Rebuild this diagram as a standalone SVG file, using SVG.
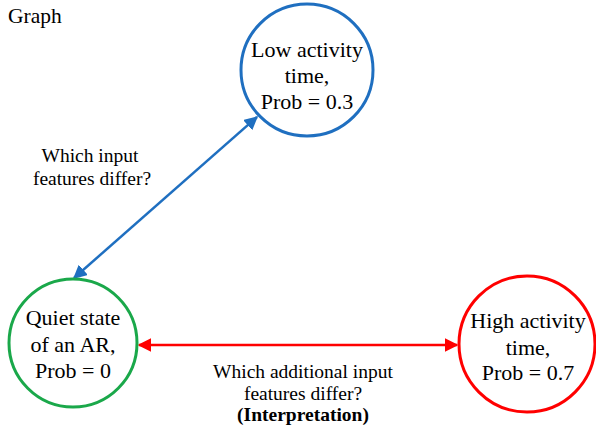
<svg xmlns="http://www.w3.org/2000/svg" width="596" height="438" viewBox="0 0 596 438">
<style>
text{font-family:"Liberation Serif","Times New Roman",serif;fill:#000;text-anchor:middle}
.n{font-size:22px;font-family:"Liberation Serif",serif}
.e{font-size:19.5px;font-family:"Liberation Serif",serif}
.t{font-size:21.5px;font-family:"Liberation Serif",serif;text-anchor:start}
.b{font-weight:bold}
.c{fill:#fff;stroke-width:3}
</style>
<defs>
<marker id="ab" viewBox="0 0 10 10" refX="9" refY="5" markerWidth="5.5" markerHeight="5.5" orient="auto-start-reverse" markerUnits="strokeWidth"><path d="M0,0 L10,5 L0,10 z" fill="#1f6fc0"/></marker>
<marker id="ar" viewBox="0 0 10 10" refX="9" refY="5" markerWidth="5.5" markerHeight="5.5" orient="auto-start-reverse" markerUnits="strokeWidth"><path d="M0,0 L10,5 L0,10 z" fill="#ff0000"/></marker>
</defs>
<rect width="596" height="438" fill="#fff"/>
<text class="t" x="8" y="23">Graph</text>
<g id="connectors">
<line x1="74" y1="278" x2="257" y2="117" stroke="#1f6fc0" stroke-width="2.5" marker-start="url(#ab)" marker-end="url(#ab)"/>
<line x1="139" y1="345" x2="457" y2="345" stroke="#ff0000" stroke-width="2.5" marker-start="url(#ar)" marker-end="url(#ar)"/>
<text class="e" x="90" y="162">Which input</text>
<text class="e" x="92" y="185">features differ?</text>
<text class="e" x="303" y="378">Which additional input</text>
<text class="e" x="303" y="400">features differ?</text>
<text class="e b" x="303" y="421">(Interpretation)</text>
</g>
<g id="low">
<circle class="c" cx="307" cy="70" r="66" stroke="#1f6fc0"/>
<text class="n" x="307" y="57">Low activity</text>
<text class="n" x="307" y="83">time,</text>
<text class="n" x="307" y="109">Prob = 0.3</text>
</g>
<g id="quiet">
<circle class="c" cx="73" cy="343" r="64" stroke="#1aa84a"/>
<text class="n" x="73" y="325">Quiet state</text>
<text class="n" x="73" y="352">of an AR,</text>
<text class="n" x="73" y="378">Prob = 0</text>
</g>
<g id="high">
<circle class="c" cx="527" cy="344" r="68" stroke="#ff0000"/>
<text class="n" x="528" y="328">High activity</text>
<text class="n" x="528" y="355">time,</text>
<text class="n" x="528" y="380">Prob = 0.7</text>
</g>
</svg>
